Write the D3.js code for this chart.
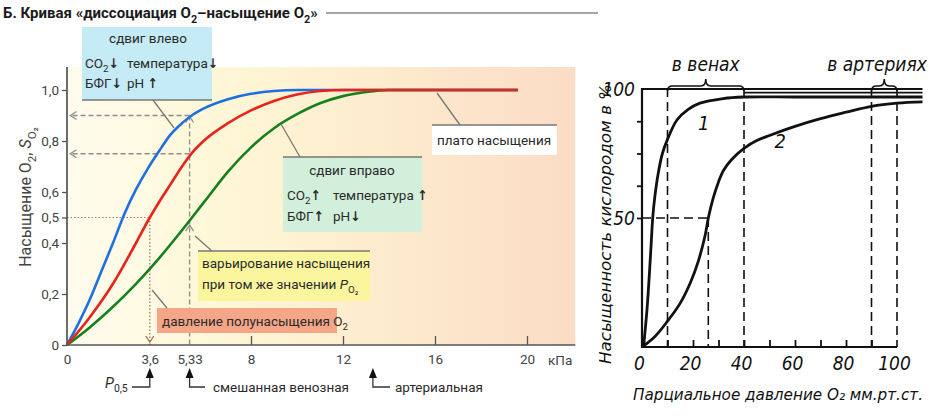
<!DOCTYPE html>
<html><head><meta charset="utf-8">
<script src="https://cdn.jsdelivr.net/npm/d3@7"></script>
<style>body{margin:0;background:#fff;} svg{display:block;}</style>
</head><body>
<svg id="c" width="938" height="417"></svg>
<script>
// ---------------- DATA ----------------
// Left chart (kPa vs saturation fraction)
const kpaTicks = [0, 3.6, 5.33, 8, 12, 16, 20];
const kpaTickLabels = ["0", "3,6", "5,33", "8", "12", "16", "20"];
const satTicks = [0, 0.2, 0.4, 0.5, 0.6, 0.8, 1.0];
const satTickLabels = ["0", "0,2", "0,4", "0,5", "0,6", "0,8", "1,0"];

const blueP = [0, 0.5, 1, 1.5, 2, 2.5, 3, 3.5, 4, 4.5, 5, 5.5, 6, 7, 8, 9, 10, 12, 16, 19.6];
const blueS = [0, 0.085, 0.18, 0.29, 0.40, 0.515, 0.61, 0.69, 0.76, 0.825, 0.87, 0.905, 0.93, 0.964, 0.985, 0.996, 1.0, 1.0, 1.0, 1.0];
const redP = [0, 1, 2, 3, 3.6, 4, 4.5, 5, 5.5, 6, 7, 8, 9, 10, 11, 12, 16, 19.6];
const redS = [0, 0.11, 0.24, 0.40, 0.50, 0.56, 0.63, 0.70, 0.76, 0.805, 0.87, 0.92, 0.957, 0.982, 0.996, 1.0, 1.0, 1.0];
const greenP = [0, 1, 2, 3, 4, 5, 6, 7, 8, 9, 10, 11, 12, 13, 14, 16, 19.6];
const greenS = [0, 0.07, 0.15, 0.24, 0.34, 0.45, 0.565, 0.68, 0.775, 0.85, 0.905, 0.948, 0.976, 0.992, 1.0, 1.0, 1.0];

const halfSatP = 3.6;        // P0,5
const venousP = 5.33;        // mixed venous
const arterialP = 13.3;      // arterial
const venousBlueS = 0.9;
const venousRedS = 0.75;
const venousGreenS = 0.47;

// Right chart (mm Hg vs saturation %)
const mmTicks = [0, 10, 20, 30, 40, 50, 60, 70, 80, 90, 100];
const mmTickLabels = ["0", "", "20", "", "40", "", "60", "", "80", "", "100"];
const pctTicks = [50, 62.5, 75, 87.5, 100];
const pctTickLabels = ["50", "", "", "", "100"];
const curve1X = [0.6, 2, 3, 3.6, 4.2, 5, 6.3, 8, 9.8, 13.7, 18, 22.7, 31.8, 40, 60, 80, 110];
const curve1Y = [0, 15, 30, 40, 50, 58, 67, 75, 80, 88, 92, 94.5, 96.3, 96.9, 96.9, 96.9, 96.9];
const curve2X = [0, 5, 10, 15, 19, 22, 24.7, 26, 28, 30, 32, 35, 40, 45, 50, 60, 70, 80, 90, 100, 110];
const curve2Y = [0, 4, 10, 17, 25, 33, 43, 50, 58, 64, 68.5, 72.5, 77, 80, 82, 85.5, 88.5, 91, 93.3, 94.5, 95];
const extraPlateauX = [40, 110];
const extraPlateauY = [98.6, 98.6];
const veinsRange = [10, 40];
const arteriesRange = [90, 100];
const halfX2 = 26;

// ---------------- DRAWING ----------------
const svg = d3.select("#c");
const FONT = "Roboto,'DejaVu Sans Condensed',sans-serif";
svg.attr("font-family", FONT);

function rich(sel, x, y, parts, size, attrs = {}) {
  const t = sel.append("text").attr("x", x).attr("y", y).attr("font-size", size);
  Object.entries(attrs).forEach(([k, v]) => t.attr(k, v));
  let cur = 0;
  parts.forEach(p => {
    if (typeof p === "string") p = { t: p };
    const shift = p.sub ? size * 0.3 : 0;
    const ts = t.append("tspan").text(p.t);
    if (shift - cur !== 0) ts.attr("dy", shift - cur);
    cur = shift;
    if (p.sub) ts.attr("font-size", size * 0.72);
    if (p.it) ts.attr("font-style", "italic");
    if (p.b) ts.attr("font-weight", "bold");
  });
  return t;
}

// ===== Title =====
rich(svg, 3, 18, ["Б. Кривая «диссоциация O", { t: "2", sub: true }, "–насыщение O", { t: "2", sub: true }, "»"], 15,
  { "font-weight": "bold", fill: "#1a1a1a" });
svg.append("line").attr("x1", 326).attr("x2", 598).attr("y1", 13).attr("y2", 13)
  .attr("stroke", "#8a8a8a").attr("stroke-width", 1.5);

// ===== Left chart =====
const xL = d3.scaleLinear().domain([0, 20]).range([67, 527]);
const yL = d3.scaleLinear().domain([0, 1]).range([345, 90]);

const defs = svg.append("defs");
const grad = defs.append("linearGradient").attr("id", "bg").attr("x1", 0).attr("x2", 1).attr("y1", 0).attr("y2", 0);
[[0, "#fffcee"], [0.3, "#fef7d6"], [0.6, "#fdeccd"], [1, "#fbdcc6"]].forEach(([o, c]) =>
  grad.append("stop").attr("offset", o).attr("stop-color", c));

const gL = svg.append("g");
gL.append("rect").attr("x", xL(0)).attr("y", yL(1.09)).attr("width", xL(22.1) - xL(0)).attr("height", yL(0) - yL(1.09))
  .attr("fill", "url(#bg)");

// guides
const guideCol = "#8c8c8c";
gL.append("line").attr("x1", xL(0)).attr("x2", xL(halfSatP)).attr("y1", yL(0.5)).attr("y2", yL(0.5))
  .attr("stroke", "#888").attr("stroke-width", 1.2).attr("stroke-dasharray", "1.5,2");
gL.append("line").attr("x1", xL(halfSatP)).attr("x2", xL(halfSatP)).attr("y1", yL(0.5)).attr("y2", yL(0))
  .attr("stroke", "#9a7060").attr("stroke-width", 1.2).attr("stroke-dasharray", "1.5,2");
gL.append("line").attr("x1", xL(venousP)).attr("x2", xL(venousP)).attr("y1", yL(venousBlueS)).attr("y2", yL(0))
  .attr("stroke", guideCol).attr("stroke-width", 1.3).attr("stroke-dasharray", "5,3");
[venousBlueS, venousRedS].forEach(s => {
  gL.append("line").attr("x1", xL(venousP)).attr("x2", xL(0.1)).attr("y1", yL(s)).attr("y2", yL(s))
    .attr("stroke", guideCol).attr("stroke-width", 1.3).attr("stroke-dasharray", "5,3");
});
function openArrow(x, y, dir, col) {
  const a = 4, b = 6;
  let d;
  if (dir === "left") d = `M${x + b},${y - a}L${x},${y}L${x + b},${y + a}`;
  if (dir === "up") d = `M${x - a},${y + b}L${x},${y}L${x + a},${y + b}`;
  if (dir === "down") d = `M${x - a},${y - b}L${x},${y}L${x + a},${y - b}`;
  gL.append("path").attr("d", d).attr("fill", "none").attr("stroke", col).attr("stroke-width", 1.3);
}
openArrow(xL(0.15), yL(venousBlueS), "left", guideCol);
openArrow(xL(0.15), yL(venousRedS), "left", guideCol);
openArrow(xL(venousP), yL(venousBlueS) + 1, "up", guideCol);
openArrow(xL(venousP), yL(venousGreenS), "up", guideCol);
openArrow(xL(halfSatP), yL(0) - 3, "down", "#9a7060");

// curves
const lineL = d3.line().x(d => xL(d[0])).y(d => yL(d[1])).curve(d3.curveMonotoneX);
const curvesL = [
  { p: blueP, s: blueS, c: "#1e6fe0" },
  { p: greenP, s: greenS, c: "#16801e" },
  { p: redP, s: redS, c: "#e8231c" }
];
curvesL.forEach(cv => {
  gL.append("path").attr("d", lineL(cv.p.map((p, i) => [p, cv.s[i]])))
    .attr("fill", "none").attr("stroke", cv.c).attr("stroke-width", 2.6);
});

// axes
const axCol = "#555";
const gx = gL.append("g").attr("transform", `translate(0,${yL(0)})`)
  .call(d3.axisBottom(xL).tickValues(kpaTicks).tickFormat((d, i) => kpaTickLabels[i])
    .tickSizeInner(-9).tickSizeOuter(0).tickPadding(9));
gx.select(".domain").remove();
gx.selectAll(".tick line").filter(d => d < 8).remove();
gx.selectAll(".tick line").attr("stroke", axCol).attr("stroke-width", 1.3);
gx.selectAll(".tick text").attr("font-family", FONT).attr("font-size", 13.5).attr("fill", "#444");

const gy = gL.append("g").attr("transform", `translate(${xL(0)},0)`)
  .call(d3.axisLeft(yL).tickValues(satTicks).tickFormat((d, i) => satTickLabels[i])
    .tickSizeInner(5).tickSizeOuter(0).tickPadding(3));
gy.select(".domain").remove();
gy.selectAll(".tick line").attr("stroke", axCol).attr("stroke-width", 1.3);
gy.selectAll(".tick text").attr("font-family", FONT).attr("font-size", 13.5).attr("fill", "#444");

gL.append("path").attr("d", `M${xL(0)},${yL(1.09)}V${yL(0)}H${xL(22.1)}`)
  .attr("fill", "none").attr("stroke", axCol).attr("stroke-width", 1.7);

gL.append("text").attr("x", 548).attr("y", 365).attr("font-size", 13.5).attr("fill", "#444").text("кПа");

// Y title
rich(gL, 0, 0, ["Насыщение O", { t: "2", sub: true }, ", ", { t: "S", it: true }, { t: "O₂", sub: true }], 16,
  { transform: "translate(31,197) rotate(-90)", "text-anchor": "middle", fill: "#444" });

// ----- annotations -----
const noteCol = "#777";
function note(x, y, w, h, fill, leader, underline = true) {
  gL.append("rect").attr("x", x).attr("y", y).attr("width", w).attr("height", h).attr("fill", fill);
  if (underline) gL.append("line").attr("x1", x).attr("x2", x + w).attr("y1", underline === "bottom" ? y + h : y)
    .attr("y2", underline === "bottom" ? y + h : y).attr("stroke", noteCol).attr("stroke-width", 1.3);
  if (leader) gL.append("line").attr("x1", leader[0]).attr("y1", leader[1]).attr("x2", leader[2]).attr("y2", leader[3])
    .attr("stroke", noteCol).attr("stroke-width", 1.3);
}
const tc = "#2a2a2a";
const fs = 13.5;
// left shift
note(82, 27, 130, 73, "#c4ebf6", [153, 100, 174, 128], "bottom");
gL.append("text").attr("x", 148).attr("y", 43).attr("text-anchor", "middle").attr("font-size", fs).attr("fill", tc).text("сдвиг влево");
rich(gL, 85, 68, ["CO", { t: "2", sub: true }, { t: "↓", b: true }], fs, { fill: tc });
rich(gL, 127, 68, ["температура", { t: "↓", b: true }], fs, { fill: tc });
rich(gL, 85, 88, ["БФГ", { t: "↓", b: true }], fs, { fill: tc });
rich(gL, 127, 88, ["pH ", { t: "↑", b: true }], fs, { fill: tc });

// right shift
note(283, 157, 139, 75, "#d2efdb", [300, 157, 281, 124]);
gL.append("text").attr("x", 352).attr("y", 175).attr("text-anchor", "middle").attr("font-size", fs).attr("fill", tc).text("сдвиг вправо");
rich(gL, 287, 200, ["CO", { t: "2", sub: true }, { t: "↑", b: true }], fs, { fill: tc });
rich(gL, 333, 200, ["температура ", { t: "↑", b: true }], fs, { fill: tc });
rich(gL, 287, 221, ["БФГ", { t: "↑", b: true }], fs, { fill: tc });
rich(gL, 333, 221, ["pH", { t: "↓", b: true }], fs, { fill: tc });

// plateau
note(432, 125, 125, 30, "#ffffff", [460, 125, 437, 93]);
gL.append("text").attr("x", 494).attr("y", 145).attr("text-anchor", "middle").attr("font-size", fs).attr("fill", tc).text("плато насыщения");

// varying saturation
note(198, 251, 172, 50, "#fbf59e", [212, 251, 195, 236]);
gL.append("text").attr("x", 202).attr("y", 268).attr("font-size", fs).attr("fill", tc).text("варьирование насыщения");
rich(gL, 202, 289, ["при том же значении  ", { t: "P", it: true }, { t: "O₂", sub: true }], fs, { fill: tc });

// half saturation
note(157, 308, 180, 25, "#f6a688", [167, 308, 152, 290], false);
rich(gL, 162, 326, ["давление полунасыщения O", { t: "2", sub: true }], fs, { fill: tc });

// bottom pointers
function pointer(px, toX, textX, label) {
  const x = xL(px);
  gL.append("path").attr("d", `M${x},368L${x - 4},378L${x + 4},378Z`).attr("fill", "#111");
  gL.append("path").attr("d", `M${x},378V387H${toX}`).attr("fill", "none").attr("stroke", "#333").attr("stroke-width", 1.3);
  if (label) gL.append("text").attr("x", textX).attr("y", 392).attr("font-size", fs).attr("fill", tc).text(label);
}
pointer(halfSatP, 132, 0, null);
rich(gL, 105, 388, [{ t: "P", it: true }, { t: "0,5", sub: true }], 14.5, { fill: tc });
pointer(venousP, 205, 213, "смешанная венозная");
pointer(arterialP, 390, 395, "артериальная");

// ===== Right chart =====
const xR = d3.scaleLinear().domain([0, 100]).range([642, 897]);
const yR = d3.scaleLinear().domain([0, 100]).range([347, 89]);
const gR = svg.append("g");
const RFONT = "'DejaVu Sans Condensed','Liberation Sans',sans-serif";

// dashed guides
const dash = "9,5";
[veinsRange[0], veinsRange[1], arteriesRange[0], arteriesRange[1]].forEach(v => {
  gR.append("line").attr("x1", xR(v)).attr("x2", xR(v)).attr("y1", yR(100) - 1).attr("y2", yR(0))
    .attr("stroke", "#111").attr("stroke-width", 1.6).attr("stroke-dasharray", dash);
});
gR.append("line").attr("x1", xR(halfX2)).attr("x2", xR(halfX2)).attr("y1", yR(50)).attr("y2", yR(0))
  .attr("stroke", "#111").attr("stroke-width", 1.6).attr("stroke-dasharray", dash);
gR.append("line").attr("x1", xR(0)).attr("x2", xR(halfX2)).attr("y1", yR(50)).attr("y2", yR(50))
  .attr("stroke", "#111").attr("stroke-width", 1.6).attr("stroke-dasharray", dash);

// curves
const lineR = d3.line().x(d => xR(d[0])).y(d => yR(d[1])).curve(d3.curveCatmullRom.alpha(0.5));
[[curve1X, curve1Y], [curve2X, curve2Y], [extraPlateauX, extraPlateauY]].forEach(([xs, ys], k) => {
  gR.append("path").attr("d", lineR(xs.map((x, i) => [x, ys[i]])))
    .attr("fill", "none").attr("stroke", "#111").attr("stroke-width", k === 2 ? 1.8 : 2.8);
});

// axes
const gxR = gR.append("g").attr("transform", `translate(0,${yR(0)})`)
  .call(d3.axisBottom(xR).tickValues(mmTicks).tickFormat((d, i) => mmTickLabels[i])
    .tickSizeInner(-7).tickSizeOuter(0).tickPadding(10));
gxR.select(".domain").remove();
gxR.selectAll(".tick line").filter(d => d === 0 || d === 100).remove();
gxR.selectAll(".tick line").attr("stroke", "#111").attr("stroke-width", 1.8);
gxR.selectAll(".tick text").attr("font-family", RFONT).attr("font-style", "italic").attr("font-size", 19)
  .attr("fill", "#111").attr("dx", -3);

const gyR = gR.append("g").attr("transform", `translate(${xR(0)},0)`)
  .call(d3.axisLeft(yR).tickValues(pctTicks).tickFormat((d, i) => pctTickLabels[i])
    .tickSizeInner(5).tickSizeOuter(0).tickPadding(2));
gyR.select(".domain").remove();
gyR.selectAll(".tick line").filter(d => d === 100).remove();
gyR.selectAll(".tick line").attr("stroke", "#111").attr("stroke-width", 1.8);
gyR.selectAll(".tick text").attr("font-family", RFONT).attr("font-style", "italic").attr("font-size", 19).attr("fill", "#111");

gR.append("path").attr("d", `M${xR(110)},${yR(100)}H${xR(0)}V${yR(0)}H${xR(100)}`)
  .attr("fill", "none").attr("stroke", "#111").attr("stroke-width", 2.2);

// curve labels
gR.append("text").attr("x", xR(22)).attr("y", yR(84)).attr("font-size", 20)
  .attr("font-style", "italic").attr("fill", "#111").attr("font-family", RFONT).text("1");
gR.append("text").attr("x", xR(52)).attr("y", yR(77)).attr("font-size", 20)
  .attr("font-style", "italic").attr("fill", "#111").attr("font-family", RFONT).text("2");

gR.append("text").attr("transform", "translate(611,224) rotate(-90)").attr("text-anchor", "middle")
  .attr("font-size", 16.5).attr("font-style", "italic").attr("fill", "#111").attr("font-family", RFONT)
  .attr("textLength", 280).attr("lengthAdjust", "spacingAndGlyphs")
  .text("Насыщенность кислородом в %");

gR.append("text").attr("x", 778).attr("y", 400).attr("text-anchor", "middle")
  .attr("font-size", 16.5).attr("font-style", "italic").attr("fill", "#111").attr("font-family", RFONT)
  .attr("textLength", 290).attr("lengthAdjust", "spacingAndGlyphs")
  .text("Парциальное давление O₂ мм.рт.ст.");

// braces
function brace(x1, x2, y) {
  const xm = (x1 + x2) / 2;
  gR.append("path").attr("d",
    `M${x1},${y + 4}Q${x1},${y - 1} ${x1 + 5},${y - 1}H${xm - 5}Q${xm},${y - 1} ${xm},${y - 8}` +
    `Q${xm},${y - 1} ${xm + 5},${y - 1}H${x2 - 5}Q${x2},${y - 1} ${x2},${y + 4}`)
    .attr("fill", "none").attr("stroke", "#111").attr("stroke-width", 1.6);
}
brace(xR(veinsRange[0]), xR(veinsRange[1]), 87);
brace(xR(arteriesRange[0]), xR(arteriesRange[1]), 87);
gR.append("text").attr("x", (xR(veinsRange[0]) + xR(veinsRange[1])) / 2).attr("y", 71).attr("text-anchor", "middle")
  .attr("font-size", 19).attr("font-style", "italic").attr("fill", "#111").attr("font-family", RFONT).text("в венах");
gR.append("text").attr("x", 877).attr("y", 71).attr("text-anchor", "middle")
  .attr("font-size", 19).attr("font-style", "italic").attr("fill", "#111").attr("font-family", RFONT).text("в артериях");
</script>
</body></html>
